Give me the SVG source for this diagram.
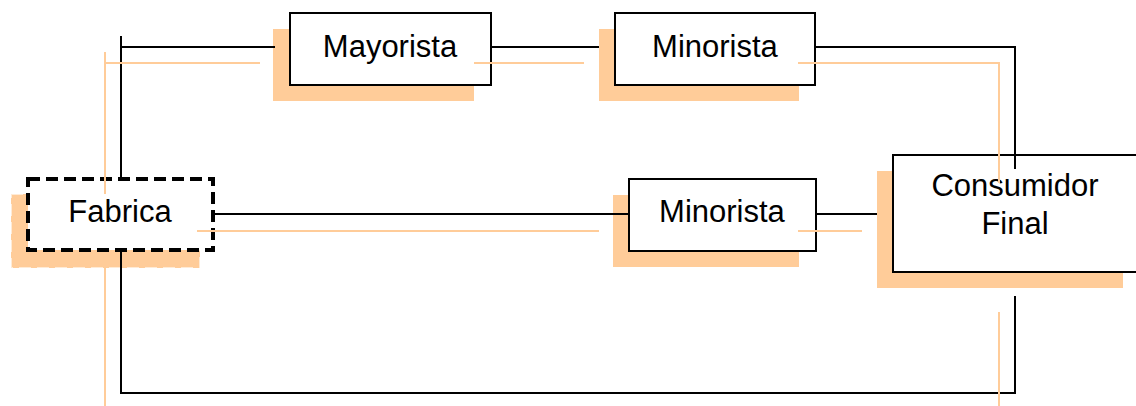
<svg xmlns="http://www.w3.org/2000/svg" width="1136" height="406" viewBox="0 0 1136 406">
  <style>
    .shadow { fill: #FFCC99; stroke: none; }
    .box { fill: #FFFFFF; stroke: #000000; stroke-width: 2; }
    .dashed { fill: #FFFFFF; stroke: #000000; stroke-width: 4; stroke-dasharray: 12 6; }
    .label { font-family: "Liberation Sans", Arial, sans-serif; font-size: 31px; fill: #000000; text-anchor: middle; }
    .wire { fill: none; stroke: #000000; stroke-width: 2; }
    .trace { fill: none; stroke: #FFCC99; stroke-width: 2; }
  </style>
  <rect width="1136" height="406" fill="#FFFFFF"/>

  <!-- Fabrica -->
  <g id="fabrica">
    <rect class="shadow" x="11" y="194" width="189" height="74"/>
    <rect x="11" y="194" width="189" height="74" fill="none" stroke="#FFFFFF" stroke-width="2" stroke-dasharray="12 6" opacity="0.6"/>
    <rect class="dashed" x="28" y="179" width="185" height="71"/>
    <text class="label" x="120" y="222">Fabrica</text>
  </g>

  <!-- Mayorista -->
  <g id="mayorista">
    <rect class="shadow" x="273" y="29" width="201" height="72"/>
    <rect class="box" x="290" y="13" width="201" height="72"/>
    <text class="label" x="390" y="57">Mayorista</text>
  </g>

  <!-- Minorista (upper) -->
  <g id="minorista-1">
    <rect class="shadow" x="599" y="29" width="200" height="72"/>
    <rect class="box" x="615" y="13" width="200" height="72"/>
    <text class="label" x="715" y="57">Minorista</text>
  </g>

  <!-- Minorista (lower) -->
  <g id="minorista-2">
    <rect class="shadow" x="613" y="195" width="186" height="72"/>
    <rect class="box" x="629" y="179" width="187" height="72"/>
    <text class="label" x="722" y="222">Minorista</text>
  </g>

  <!-- Consumidor Final -->
  <g id="consumidor-final">
    <rect class="shadow" x="877" y="171" width="246" height="117"/>
    <rect class="box" x="893" y="155" width="248" height="117"/>
    <text class="label" x="1015" y="196">Consumidor</text>
    <text class="label" x="1015" y="234">Final</text>
  </g>

  <!-- Connectors -->
  <g id="connectors">
    <!-- black channel lines -->
    <polyline class="wire" points="275,47 121,47 121,178"/>
    <line class="wire" x1="121" y1="36" x2="121" y2="47"/>
    <line class="wire" x1="491" y1="47" x2="599" y2="47"/>
    <polyline class="wire" points="815,47 1015,47 1015,169"/>
    <line class="wire" x1="213" y1="214" x2="629" y2="214"/>
    <line class="wire" x1="816" y1="214" x2="877" y2="214"/>
    <polyline class="wire" points="121,250 121,393 1015,393 1015,296"/>

    <!-- orange trace lines -->
    <line class="trace" x1="105" y1="52" x2="105" y2="194"/>
    <line class="trace" x1="105" y1="268" x2="105" y2="406"/>
    <line class="trace" x1="105" y1="63" x2="260" y2="63"/>
    <line class="trace" x1="474" y1="63" x2="584" y2="63"/>
    <polyline class="trace" points="798,63 999,63 999,183"/>
    <line class="trace" x1="197" y1="231" x2="599" y2="231"/>
    <line class="trace" x1="798" y1="231" x2="862" y2="231"/>
    <line class="trace" x1="999" y1="312" x2="999" y2="406"/>
  </g>
</svg>
